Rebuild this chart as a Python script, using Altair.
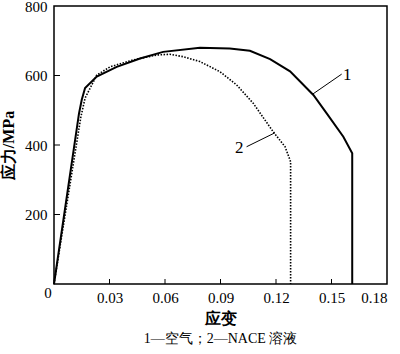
import altair as alt
import pandas as pd

# Curve 1 (air)
c1_strain = [0, 0.0135, 0.015, 0.0168, 0.0231, 0.0339, 0.0465, 0.059, 0.0789, 0.0950, 0.1059, 0.1168, 0.1276, 0.1402, 0.1474, 0.1564, 0.1612, 0.1612]
c1_stress = [0, 490, 530, 564, 597, 625, 649, 668, 680, 678, 671, 647, 612, 544, 491, 424, 376, 0]
# Curve 2 (NACE solution)
c2_strain = [0, 0.0145, 0.0168, 0.0231, 0.0303, 0.0429, 0.0555, 0.0627, 0.0699, 0.0789, 0.0897, 0.0987, 0.1077, 0.1185, 0.1249, 0.1279, 0.1279]
c2_stress = [0, 480, 535, 601, 625, 645, 659, 661, 654, 640, 611, 573, 520, 438, 395, 352, 0]

x_ticks = [0.03, 0.06, 0.09, 0.12, 0.15]
y_ticks = [200, 400, 600]

labels_text = ["1", "2"]
labels_x = [0.1585, 0.1001]
labels_y = [601, 390]
leader_x = [0.1400, 0.1041]
leader_y = [547, 395]
leader_x2 = [0.1555, 0.1194]
leader_y2 = [604, 435]

W, H = 333, 278
serif = "Liberation Serif"

df1 = pd.DataFrame({"strain": c1_strain, "stress": c1_stress, "idx": range(len(c1_strain))})
df2 = pd.DataFrame({"strain": c2_strain, "stress": c2_stress, "idx": range(len(c2_strain))})
lab = pd.DataFrame({"t": labels_text, "x": labels_x, "y": labels_y})
lead = pd.DataFrame({"x": leader_x, "y": leader_y, "x2": leader_x2, "y2": leader_y2})
xt = pd.DataFrame({"v": x_ticks})
yt = pd.DataFrame({"v": y_ticks})
zero = pd.DataFrame({"x": [0], "y": [0], "t": ["0"]})

xs = alt.Scale(domain=[0, 0.18], nice=False, zero=False)
ys = alt.Scale(domain=[0, 800], nice=False)

xaxis = alt.Axis(values=[0, 0.03, 0.06, 0.09, 0.12, 0.15, 0.18], format=".2f",
                 labelExpr="datum.value == 0 ? '' : format(datum.value, '.2f')",
                 ticks=False, domain=False, grid=False, labelFont=serif, labelFontSize=15,
                 labelColor="black", labelPadding=6, title="应变", titleFont=serif,
                 titleFontSize=16, titleFontWeight="bold", titleColor="black", titlePadding=5)
yaxis = alt.Axis(values=[200, 400, 600, 800], ticks=False, domain=False, grid=False,
                 labelFont=serif, labelFontSize=15, labelColor="black", labelPadding=7,
                 title="应力/MPa", titleFont=serif, titleFontSize=16, titleFontWeight="bold",
                 titleColor="black", titlePadding=8)

line1 = alt.Chart(df1).mark_line(color="black", strokeWidth=2).encode(
    x=alt.X("strain:Q", scale=xs, axis=xaxis),
    y=alt.Y("stress:Q", scale=ys, axis=yaxis),
    order="idx:Q")
line2 = alt.Chart(df2).mark_line(color="black", strokeWidth=1.6, strokeDash=[1.5, 1.5]).encode(
    x=alt.X("strain:Q", scale=xs),
    y=alt.Y("stress:Q", scale=ys),
    order="idx:Q")
leaders = alt.Chart(lead).mark_rule(color="black", strokeWidth=1).encode(
    x=alt.X("x:Q", scale=xs), y=alt.Y("y:Q", scale=ys), x2="x2:Q", y2="y2:Q")
texts = alt.Chart(lab).mark_text(font=serif, fontSize=17, color="black", align="center", baseline="middle").encode(
    x=alt.X("x:Q", scale=xs), y=alt.Y("y:Q", scale=ys), text="t:N")
zero_t = alt.Chart(zero).mark_text(font=serif, fontSize=15, color="black", align="center", baseline="middle", dx=-6, dy=9).encode(
    x=alt.X("x:Q", scale=xs), y=alt.Y("y:Q", scale=ys), text="t:N")
xtick = alt.Chart(xt).mark_rule(color="black", strokeWidth=1).encode(
    x=alt.X("v:Q", scale=xs), y=alt.value(H), y2=alt.value(H - 5))
ytick = alt.Chart(yt).mark_rule(color="black", strokeWidth=1).encode(
    y=alt.Y("v:Q", scale=ys), x=alt.value(0), x2=alt.value(6))

chart = alt.layer(line1, line2, leaders, texts, zero_t, xtick, ytick).properties(
    width=W, height=H,
    background="white",
    title=alt.TitleParams("1—空气；2—NACE 溶液", orient="bottom", font=serif, fontSize=14,
                          fontWeight="normal", color="black", offset=6, anchor="middle"),
    autosize=alt.AutoSizeParams(type="none"),
    padding={"left": 54, "top": 6, "right": 13, "bottom": 70},
).configure_view(stroke="black", strokeWidth=1.5, strokeOpacity=1)

chart.save("out.html", embed_options={"renderer": "svg", "actions": False})
